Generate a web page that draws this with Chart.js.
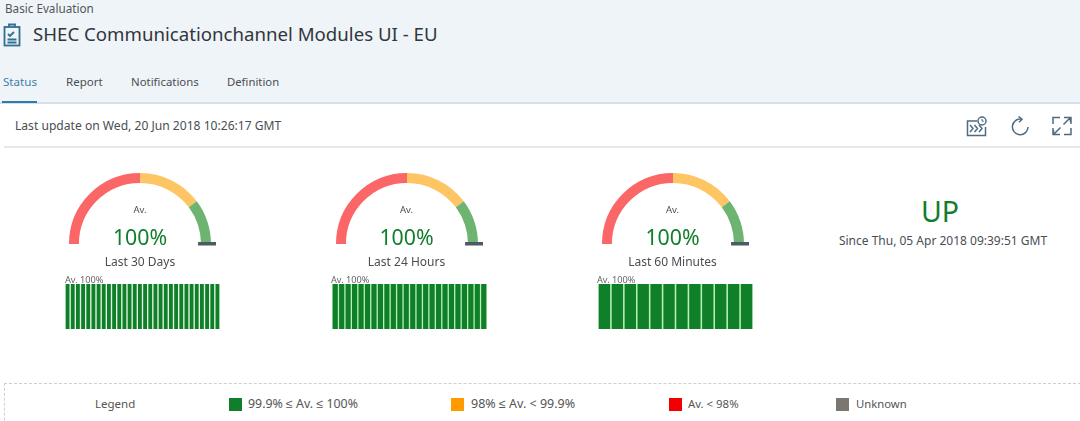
<!DOCTYPE html>
<html>
<head>
<meta charset="utf-8">
<title>SHEC Communicationchannel Modules UI - EU</title>
<script src="https://cdn.jsdelivr.net/npm/chart.js@4/dist/chart.umd.min.js"></script>
<style>
  html, body { margin: 0; padding: 0; background: #fff; }
  body { width: 1080px; height: 421px; overflow: hidden; position: relative; font-family: 'Noto Sans', sans-serif; color: #32363a; }
  .abs { position: absolute; white-space: nowrap; line-height: 1; }
  canvas { position: absolute; display: block; }
  #header { position: absolute; left: 0; top: 0; width: 1080px; height: 102px; background: #eff4f9; border-bottom: 2px solid #d3e0ea; }
  #tabLine { position: absolute; left: 2px; top: 101px; width: 35px; height: 2px; background: #2f7da6; }
  #toolbarLine { position: absolute; left: 4px; top: 146px; width: 1076px; height: 2px; background: #e6e8ea; }
  #legendBox { position: absolute; left: 4px; top: 383px; width: 1090px; height: 60px; border: 1px dashed #cfcfcf; }
  .swatch { position: absolute; width: 13px; height: 13px; top: 398px; }
  svg { position: absolute; fill: none; stroke: #4f6b80; stroke-width: 1.5; }
</style>
</head>
<body>
<div id="header"></div>
<div id="tabLine"></div>
<div id="toolbarLine"></div>
<div id="legendBox"></div>

<div class="abs" style="left:5px;top:3px;font-size:11.7px;color:#51565a">Basic Evaluation</div>
<svg style="left:3px;top:23px;stroke:#2f6f90;stroke-width:1.8" width="18" height="24" viewBox="0 0 18 24">
  <rect x="1.5" y="4" width="15" height="18.5"></rect>
  <path d="M6 4V1.5h6V4M5 11l2 2 4-4M4.5 16.5h9M4.5 19.5h9"></path>
</svg>
<div class="abs" style="left:33px;top:25px;font-size:18.65px;color:#32363a">SHEC Communicationchannel Modules UI - EU</div>
<div class="abs" style="left:3px;top:76px;font-size:11.6px;color:#3f7fa6">Status</div>
<div class="abs" style="left:66px;top:76px;font-size:11.5px;color:#4a4e52">Report</div>
<div class="abs" style="left:131px;top:76px;font-size:11.4px;color:#4a4e52">Notifications</div>
<div class="abs" style="left:227px;top:76px;font-size:11.3px;color:#4a4e52">Definition</div>
<div class="abs" style="left:15px;top:120px;font-size:12.1px;color:#4a4e52">Last update on Wed, 20 Jun 2018 10:26:17 GMT</div>

<svg style="left:966px;top:116px" width="22" height="21" viewBox="0 0 22 21">
  <path d="M11 5H1.5v14.5h18V11M4 9l3 3.5L4 16M8.5 9l3 3.5-3 3.5M13 9l3 3.5-3 3.5"></path>
  <circle cx="16" cy="5" r="4"></circle>
  <path d="M16 3v2.2h1.8" stroke-width="1"></path>
</svg>
<svg style="left:1010px;top:116px" width="20" height="20" viewBox="0 0 20 20">
  <path d="M11.5 3.2A7.8 7.8 0 1 0 18 11M8.5 0.5l3.5 2.7-3 3"></path>
</svg>
<svg style="left:1052px;top:116px" width="20" height="20" viewBox="0 0 20 20">
  <path d="M1 8V1.5h7M12 1.5h7V8M19 12v6.5h-7M8 18.5H1V12M11.5 8.5l7-7M8.5 11.5l-7 7M14 1.5h4.5V6M1.5 14v4.5H6"></path>
</svg>

<canvas id="gauge30"></canvas>
<canvas id="gauge24"></canvas>
<canvas id="gauge60"></canvas>
<canvas id="bars30"></canvas>
<canvas id="bars24"></canvas>
<canvas id="bars60"></canvas>

<div class="abs" style="left:40px;width:200px;text-align:center;top:205px;font-size:9.5px;color:#4a4e52">Av.</div>
<div class="abs" style="left:40px;width:200px;text-align:center;top:226px;font-size:21.3px;color:#107e2a">100%</div>
<div class="abs" style="left:40px;width:200px;text-align:center;top:256px;font-size:12px;color:#4a4e52">Last 30 Days</div>
<div class="abs" style="left:65px;top:275px;font-size:9.2px;color:#666">Av. 100%</div>

<div class="abs" style="left:306.5px;width:200px;text-align:center;top:205px;font-size:9.5px;color:#4a4e52">Av.</div>
<div class="abs" style="left:306.5px;width:200px;text-align:center;top:226px;font-size:21.3px;color:#107e2a">100%</div>
<div class="abs" style="left:306.5px;width:200px;text-align:center;top:256px;font-size:12px;color:#4a4e52">Last 24 Hours</div>
<div class="abs" style="left:331px;top:275px;font-size:9.2px;color:#666">Av. 100%</div>

<div class="abs" style="left:572.5px;width:200px;text-align:center;top:205px;font-size:9.5px;color:#4a4e52">Av.</div>
<div class="abs" style="left:572.5px;width:200px;text-align:center;top:226px;font-size:21.3px;color:#107e2a">100%</div>
<div class="abs" style="left:572.5px;width:200px;text-align:center;top:256px;font-size:12px;color:#4a4e52">Last 60 Minutes</div>
<div class="abs" style="left:597px;top:275px;font-size:9.2px;color:#666">Av. 100%</div>

<div class="abs" style="left:840px;width:200px;text-align:center;top:197px;font-size:28.5px;color:#107e2a">UP</div>
<div class="abs" style="left:813px;width:260px;text-align:center;top:235px;font-size:12px;color:#4a4e52">Since Thu, 05 Apr 2018 09:39:51 GMT</div>

<div class="abs" style="left:95px;top:398px;font-size:11.5px;color:#555">Legend</div>
<div class="swatch" style="left:229px;background:#107e2a"></div>
<div class="abs" style="left:248px;top:398px;font-size:12.4px;color:#555">99.9% ≤ Av. ≤ 100%</div>
<div class="swatch" style="left:451px;background:#ff9a00"></div>
<div class="abs" style="left:471px;top:398px;font-size:12.5px;color:#555">98% ≤ Av. &lt; 99.9%</div>
<div class="swatch" style="left:669px;background:#f00000"></div>
<div class="abs" style="left:688px;top:398px;font-size:11.4px;color:#555">Av. &lt; 98%</div>
<div class="swatch" style="left:836px;background:#7b766f"></div>
<div class="abs" style="left:856px;top:398px;font-size:11.3px;color:#555">Unknown</div>

<script>
const bandNames = ['Low', 'Medium', 'High'];
const bandShares = [50, 29.5, 20.5];
const bandColors = ['#fb6666', '#fdc564', '#6cb46f'];

const days = [100,100,100,100,100,100,100,100,100,100,100,100,100,100,100,100,100,100,100,100,100,100,100,100,100,100,100,100,100,100];
const hours = [100,100,100,100,100,100,100,100,100,100,100,100,100,100,100,100,100,100,100,100,100,100,100,100];
const minutes = [100,100,100,100,100,100,100,100,100,100,100,100];

const BAR_GREEN = '#0f8029';

/* ── Dark end marker sitting at the tip of the arc ── */
const gaugeEnd = {
  id: 'gaugeEnd',
  afterDatasetsDraw(chart) {
    const arc = chart.getDatasetMeta(0).data[2];
    const ctx = chart.ctx;
    ctx.save();
    ctx.fillStyle = '#4b5a64';
    ctx.fillRect(arc.x + arc.innerRadius - 3, arc.y - 2, arc.outerRadius - arc.innerRadius + 8, 3.5);
    ctx.restore();
  },
};

function initGauge(id, cx) {
  const el = document.getElementById(id);
  el.style.left = (cx - 76) + 'px';
  el.style.top = '172px';
  el.style.width = '152px';
  el.style.height = '75px';
  el.width = 152;
  el.height = 75;
  return new Chart(el, {
    type: 'doughnut',
    data: {
      labels: bandNames,
      datasets: [{ data: bandShares, backgroundColor: bandColors, borderWidth: 0 }],
    },
    options: {
      responsive: false,
      animation: false,
      rotation: -90,
      circumference: 180,
      cutout: '86%',
      layout: { padding: { left: 5, right: 5, top: 1, bottom: 3 } },
      plugins: { legend: { display: false }, tooltip: { enabled: false } },
    },
    plugins: [gaugeEnd],
  });
}

function initBars(id, left, values, share, gapColor) {
  const el = document.getElementById(id);
  el.style.left = left + 'px';
  el.style.top = '284px';
  el.style.width = '155px';
  el.style.height = '45px';
  el.style.background = gapColor;
  el.width = 155;
  el.height = 45;
  return new Chart(el, {
    type: 'bar',
    data: {
      labels: values.map((_, i) => String(i + 1)),
      datasets: [{
        data: values,
        backgroundColor: BAR_GREEN,
        barPercentage: share,
        categoryPercentage: 1,
      }],
    },
    options: {
      responsive: false,
      animation: false,
      layout: { padding: 0 },
      scales: {
        x: { display: false },
        y: { display: false, min: 0, max: 100 },
      },
      plugins: { legend: { display: false }, tooltip: { enabled: false } },
    },
  });
}

initGauge('gauge30', 140.3);
initGauge('gauge24', 406.5);
initGauge('gauge60', 672.5);
initBars('bars30', 65, days, 0.74, '#e6f6e6');
initBars('bars24', 331.5, hours, 0.8, '#b9efb9');
initBars('bars60', 597.5, minutes, 0.88, '#b9efb9');
</script>
</body>
</html>
